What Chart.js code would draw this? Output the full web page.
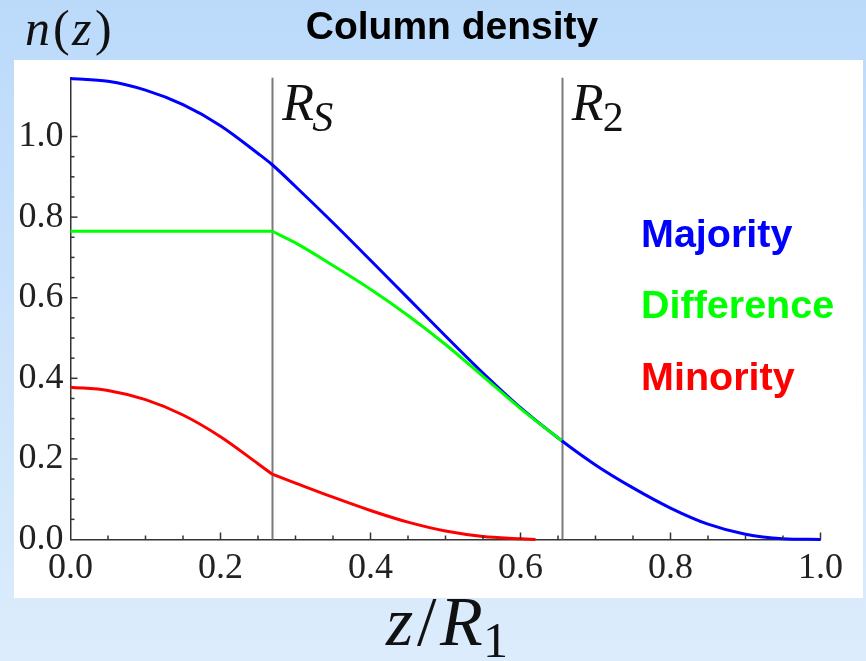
<!DOCTYPE html>
<html>
<head>
<meta charset="utf-8">
<script src="https://cdn.jsdelivr.net/npm/chart.js@4.4.1/dist/chart.umd.min.js"></script>
<style>
  html, body { margin: 0; padding: 0; }
  body { width: 866px; height: 661px; overflow: hidden; background: linear-gradient(#bbdafa, #dcecfc); }
</style>
</head>
<body>
<canvas id="myChart" width="866" height="661"></canvas>
<script>
// column density curves, n(z) against z/R1
const zMajority = [0, 0.05, 0.1, 0.15, 0.2, 0.25, 0.269, 0.3, 0.35, 0.4, 0.45, 0.5, 0.55, 0.6, 0.655, 0.7, 0.75, 0.8, 0.85, 0.9, 0.95, 1.0];
const majority = [1.144, 1.137, 1.115, 1.079, 1.027, 0.958, 0.930, 0.876, 0.786, 0.693, 0.599, 0.505, 0.413, 0.327, 0.245, 0.185, 0.128, 0.078, 0.038, 0.013, 0.002, 0];

const zDifference = [0, 0.1, 0.2, 0.269, 0.3, 0.35, 0.4, 0.45, 0.5, 0.55, 0.6, 0.655];
const difference = [0.765, 0.765, 0.765, 0.765, 0.736, 0.680, 0.621, 0.556, 0.484, 0.405, 0.325, 0.245];

const zMinority = [0, 0.05, 0.1, 0.15, 0.2, 0.25, 0.269, 0.3, 0.35, 0.4, 0.45, 0.5, 0.55, 0.6, 0.62];
const minority = [0.378, 0.370, 0.347, 0.309, 0.255, 0.188, 0.162, 0.140, 0.105, 0.072, 0.043, 0.021, 0.0075, 0.002, 0];

const xTicks = [0, 0.2, 0.4, 0.6, 0.8, 1.0];
const yTicks = [0, 0.2, 0.4, 0.6, 0.8, 1.0];
const yMax = 1.146;

// vertical markers: R_S and R_2
const rS = 0.269;
const r2 = 0.655;

const SERIF = "'Liberation Serif', 'DejaVu Serif', serif";
const SANS = "'Liberation Sans', Arial, sans-serif";

// each series is split at R_S so the spline keeps the corner there
const series = [
  { label: 'Majority', xs: zMajority, ys: majority, color: '#0000ff', split: false },
  { label: 'Difference', xs: zDifference, ys: difference, color: '#00ff00', split: true },
  { label: 'Minority', xs: zMinority, ys: minority, color: '#ff0000', split: true }
];

function toDatasets(s, order) {
  const pts = s.xs.map((x, i) => ({ x: x, y: s.ys[i] }));
  const parts = s.split
    ? [pts.filter(p => p.x <= rS), pts.filter(p => p.x >= rS)]
    : [pts];
  return parts.map(data => ({
    label: s.label,
    data: data,
    borderColor: s.color,
    order: order
  }));
}

// draws text pieces at given offsets from a start point
function drawPieces(ctx, pieces, x, baseline) {
  pieces.forEach(p => {
    ctx.font = (p.italic ? 'italic ' : '') + p.size + 'px ' + SERIF;
    ctx.fillText(p.text, x + p.dx, baseline + (p.dy || 0));
  });
}

const decor = {
  id: 'decor',
  beforeDraw(chart) {
    const ctx = chart.ctx;
    ctx.save();
    ctx.fillStyle = '#ffffff';
    ctx.fillRect(14, 60, 849, 538);
    ctx.restore();
  },
  beforeDatasetsDraw(chart) {
    const ctx = chart.ctx;
    const xs = chart.scales.x;
    const ys = chart.scales.y;
    ctx.save();
    ctx.strokeStyle = '#7a7a7a';
    ctx.lineWidth = 2;
    [rS, r2].forEach(z => {
      const px = Math.round(xs.getPixelForValue(z)) + 0.5;
      ctx.beginPath();
      ctx.moveTo(px, ys.getPixelForValue(yMax));
      ctx.lineTo(px, ys.getPixelForValue(0));
      ctx.stroke();
    });
    ctx.restore();
  },
  afterDraw(chart) {
    const ctx = chart.ctx;
    const xs = chart.scales.x;
    const ys = chart.scales.y;
    const x0 = xs.getPixelForValue(0);
    const y0 = ys.getPixelForValue(0);
    ctx.save();

    // inward ticks, minor every 0.05
    ctx.strokeStyle = '#333';
    ctx.lineWidth = 1.5;
    for (let i = 1; i <= 20; i++) {
      const v = i * 0.05;
      const len = i % 4 === 0 ? 7 : 4;
      const px = xs.getPixelForValue(v);
      ctx.beginPath();
      ctx.moveTo(px, y0);
      ctx.lineTo(px, y0 - len);
      ctx.stroke();
      if (v <= yMax) {
        const py = ys.getPixelForValue(v);
        ctx.beginPath();
        ctx.moveTo(x0, py);
        ctx.lineTo(x0 + len, py);
        ctx.stroke();
      }
    }

    // marker labels
    ctx.fillStyle = '#111';
    ctx.textAlign = 'left';
    ctx.textBaseline = 'alphabetic';
    drawPieces(ctx, [
      { text: 'R', italic: true, size: 52, dx: 0 },
      { text: 'S', italic: true, size: 42, dx: 30, dy: 11 }
    ], xs.getPixelForValue(rS) + 10, 120);
    drawPieces(ctx, [
      { text: 'R', italic: true, size: 52, dx: 0 },
      { text: '2', size: 42, dx: 31, dy: 11 }
    ], xs.getPixelForValue(r2) + 10, 120);

    // axis labels
    drawPieces(ctx, [
      { text: 'n', italic: true, size: 50, dx: 0 },
      { text: '(', size: 50, dx: 28 },
      { text: 'z', italic: true, size: 50, dx: 47 },
      { text: ')', size: 50, dx: 70 }
    ], 25, 45);
    drawPieces(ctx, [
      { text: 'z', italic: true, size: 70, dx: 0 },
      { text: '/', size: 70, dx: 31 },
      { text: 'R', italic: true, size: 70, dx: 54 },
      { text: '1', size: 50, dx: 97, dy: 12 }
    ], 386, 645);

    // title
    ctx.font = 'bold 39px ' + SANS;
    ctx.textAlign = 'center';
    ctx.fillStyle = '#000';
    ctx.fillText('Column density', 452, 39);

    // coloured series names
    ctx.textAlign = 'left';
    ctx.font = 'bold 39.5px ' + SANS;
    const baselines = [247, 318, 390];
    series.forEach((s, i) => {
      ctx.fillStyle = s.color;
      ctx.fillText(s.label, 641, baselines[i]);
    });
    ctx.restore();
  }
};

const datasets = [];
series.forEach((s, i) => datasets.push(...toDatasets(s, series.length - i)));

const ctx = document.getElementById('myChart').getContext('2d');
const myChart = new Chart(ctx, {
  type: 'line',
  data: { datasets: datasets },
  options: {
    responsive: false,
    animation: false,
    clip: 6,
    layout: { padding: { left: 0, right: 45.5, top: 77.7, bottom: 0 } },
    elements: {
      point: { radius: 0 },
      line: { borderWidth: 3, cubicInterpolationMode: 'monotone', fill: false }
    },
    plugins: {
      legend: { display: false },
      tooltip: { enabled: false },
      title: { display: false }
    },
    scales: {
      x: {
        type: 'linear',
        min: 0,
        max: 1,
        afterBuildTicks: s => { s.ticks = xTicks.map(v => ({ value: v })); },
        afterFit: s => { s.height = 121.5; },
        grid: { display: false, drawTicks: false },
        border: { display: true, color: '#333', width: 1.5 },
        ticks: {
          padding: 7,
          maxRotation: 0,
          autoSkip: false,
          color: '#222',
          font: { family: SERIF, size: 36 },
          callback: v => v.toFixed(1)
        }
      },
      y: {
        min: 0,
        max: yMax,
        afterBuildTicks: s => { s.ticks = yTicks.map(v => ({ value: v })); },
        afterFit: s => { s.width = 70.5; },
        grid: { display: false, drawTicks: false },
        border: { display: true, color: '#333', width: 1.5 },
        ticks: {
          padding: 7,
          autoSkip: false,
          color: '#222',
          font: { family: SERIF, size: 36 },
          callback: v => v.toFixed(1)
        }
      }
    }
  },
  plugins: [decor]
});
</script>
</body>
</html>
